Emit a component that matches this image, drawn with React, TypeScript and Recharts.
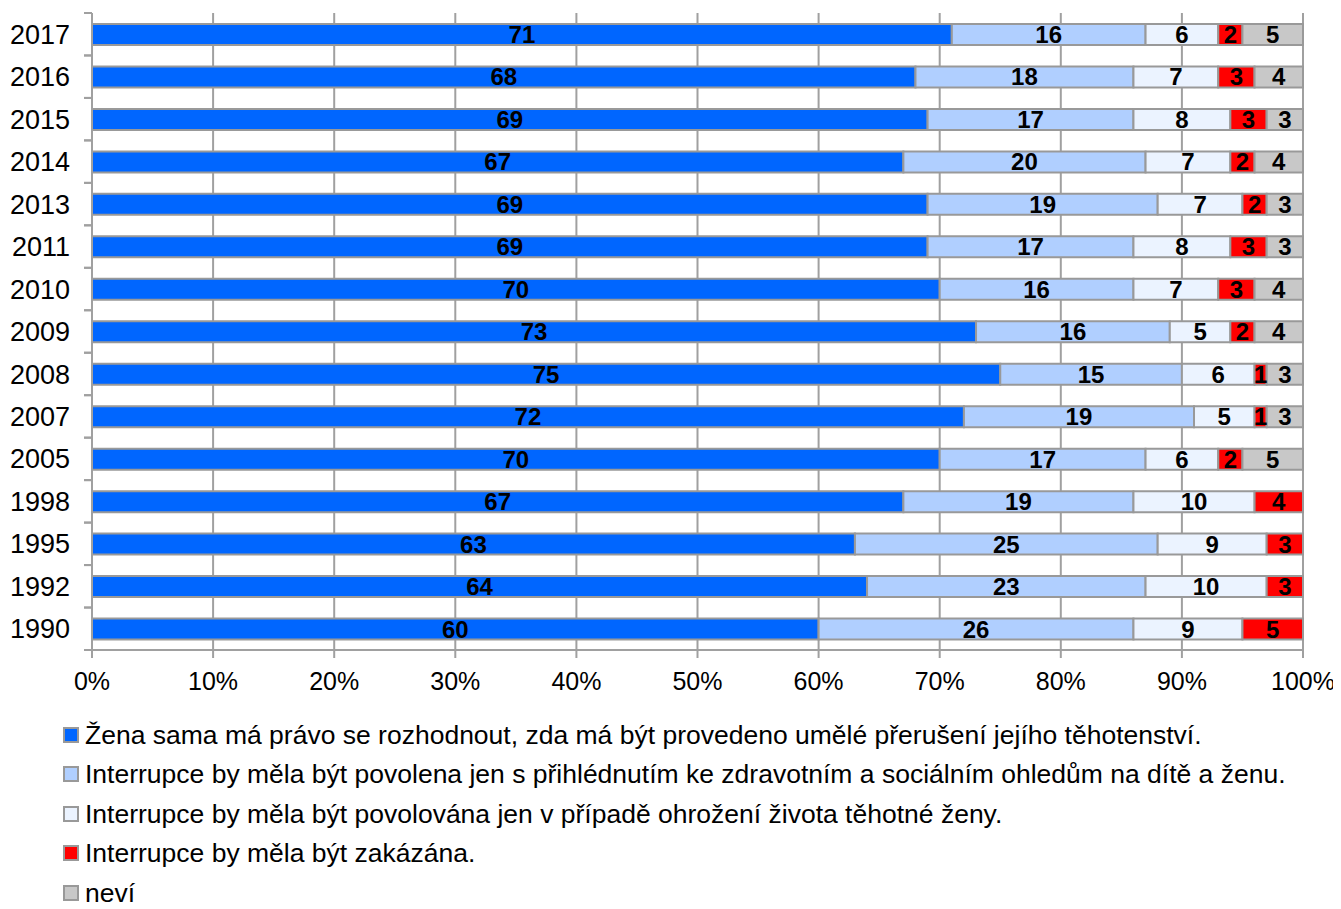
import React from "react";
import { BarChart, Bar, XAxis, YAxis, CartesianGrid, LabelList } from "recharts";

const years = ["2017", "2016", "2015", "2014", "2013", "2011", "2010", "2009", "2008", "2007", "2005", "1998", "1995", "1992", "1990"];
const zena = [71, 68, 69, 67, 69, 69, 70, 73, 75, 72, 70, 67, 63, 64, 60];
const ohledy = [16, 18, 17, 20, 19, 17, 16, 16, 15, 19, 17, 19, 25, 23, 26];
const ohrozeni = [6, 7, 8, 7, 7, 8, 7, 5, 6, 5, 6, 10, 9, 10, 9];
const zakazana = [2, 3, 3, 2, 2, 3, 3, 2, 1, 1, 2, 4, 3, 3, 5];
const nevi = [5, 4, 3, 4, 3, 3, 4, 4, 3, 3, 5, 0, 0, 0, 0];
const xTicks = [0, 10, 20, 30, 40, 50, 60, 70, 80, 90, 100];

const seriesNames = [
  "Žena sama má právo se rozhodnout, zda má být provedeno umělé přerušení jejího těhotenství.",
  "Interrupce by měla být povolena jen s přihlédnutím ke zdravotním a sociálním ohledům na dítě a ženu.",
  "Interrupce by měla být povolována jen v případě ohrožení života těhotné ženy.",
  "Interrupce by měla být zakázána.",
  "neví",
];
const seriesKeys = ["zena", "ohledy", "ohrozeni", "zakazana", "nevi"];
const seriesColors = ["#0066ff", "#b0cfff", "#ebf3ff", "#ff0000", "#c8c8c8"];

const data = years.map((y, i) => ({
  year: y,
  zena: zena[i],
  ohledy: ohledy[i],
  ohrozeni: ohrozeni[i],
  zakazana: zakazana[i],
  nevi: nevi[i],
}));

const FONT = "'Liberation Sans', Arial, sans-serif";
const CHART_W = 1333;
const CHART_H = 690;
const MARGIN = { top: 5, right: 38, bottom: 8, left: 0 };
const X_AXIS_H = 40;
const PLOT_H = CHART_H - MARGIN.top - MARGIN.bottom - X_AXIS_H;
const BAND = PLOT_H / years.length;
const TICK_SIZE = 8;
const TICK_MARGIN = 14;
const GRID = "#a0a0a0";

const YTick = (props: any) => {
  const { x, y, payload } = props;
  const axisX = x + TICK_SIZE + TICK_MARGIN;
  const half = BAND / 2;
  return (
    <g>
      <line x1={axisX - TICK_SIZE} x2={axisX} y1={y - half} y2={y - half} stroke={GRID} strokeWidth={2} />
      <line x1={axisX - TICK_SIZE} x2={axisX} y1={y + half} y2={y + half} stroke={GRID} strokeWidth={2} />
      <text x={x} y={y} dy="0.355em" textAnchor="end" fill="#000" fontSize={27} fontFamily={FONT}>
        {payload.value}
      </text>
    </g>
  );
};

const fmt = (v: any) => (v ? String(v) : "");

export default function App() {
  return (
    <div style={{ position: "relative", width: CHART_W, height: 901, fontFamily: FONT }}>
      <BarChart
        width={CHART_W}
        height={CHART_H}
        data={data}
        layout="vertical"
        margin={MARGIN}
        barSize={21}
      >
        <CartesianGrid horizontal={false} stroke={GRID} strokeWidth={2} strokeOpacity={1} />
        <XAxis
          type="number"
          domain={[0, 100]}
          ticks={xTicks}
          tickFormatter={(v: number) => `${v}%`}
          height={X_AXIS_H}
          tickSize={TICK_SIZE}
          tickMargin={14}
          axisLine={{ stroke: GRID, strokeWidth: 2 }}
          tickLine={{ stroke: GRID, strokeWidth: 2 }}
          tick={{ fill: "#000", fontSize: 25, fontFamily: FONT }}
          interval={0}
        />
        <YAxis
          type="category"
          dataKey="year"
          width={84}
          tickSize={TICK_SIZE}
          tickMargin={TICK_MARGIN}
          axisLine={{ stroke: GRID, strokeWidth: 2 }}
          tickLine={{ stroke: "none" }}
          tick={<YTick />}
          interval={0}
        />
        {seriesKeys.map((k, i) => (
          <Bar
            key={k}
            dataKey={k}
            stackId="a"
            fill={seriesColors[i]}
            stroke="#999999"
            strokeWidth={2}
            isAnimationActive={false}
          >
            <LabelList
              dataKey={k}
              position="center"
              formatter={fmt}
              fill="#000"
              fontSize={24}
              fontWeight="bold"
              fontFamily={FONT}
            />
          </Bar>
        ))}
      </BarChart>
      <div style={{ position: "absolute", left: 55, top: 707, width: 1278 }}>
        {seriesNames.map((n, i) => (
          <div key={n} style={{ display: "flex", alignItems: "center", height: 39.5, lineHeight: "26px" }}>
            <div
              style={{
                width: 12,
                height: 12,
                background: seriesColors[i],
                border: "2px solid #999999",
                marginRight: 6,
                flexShrink: 0,
              }}
            />
            <span style={{ fontSize: 26.5, color: "#000", whiteSpace: "nowrap" }}>{n}</span>
          </div>
        ))}
      </div>
    </div>
  );
}
